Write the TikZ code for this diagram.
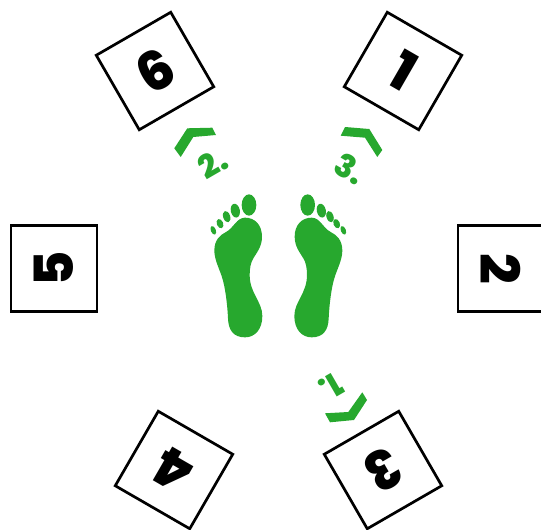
\documentclass[tikz,border=0pt]{standalone}
\usepackage{fontspec}
\setmainfont{Poppins}[BoldFont={Poppins ExtraBold}]
\definecolor{fg}{HTML}{27A82E}
\newcommand{\footshape}{%
  \fill[fg] (165,113) .. controls (195,113) and (216,135) .. (216,170)
    .. controls (216,200) and (200,218) .. (190,235)
    .. controls (182,248) and (179,265) .. (179,285)
    .. controls (179,340) and (217,365) .. (217,408)
    .. controls (217,448) and (195,472) .. (165,472)
    .. controls (130,472) and (115,450) .. (114,415)
    .. controls (112,370) and (105,320) .. (97,295)
    .. controls (90,270) and (73,240) .. (73,212)
    .. controls (73,180) and (90,165) .. (108,156)
    .. controls (130,145) and (140,113) .. (165,113) -- cycle;
  \fill[fg,rotate around={0:(177,75)}] (177,75) ellipse [x radius=22,y radius=32];
  \fill[fg,rotate around={12:(136,92)}] (136,92) ellipse [x radius=13.5,y radius=21];
  \fill[fg,rotate around={18:(110,110)}] (110,110) ellipse [x radius=10.5,y radius=17.5];
  \fill[fg,rotate around={22:(90,131)}] (90,131) ellipse [x radius=9.5,y radius=14.5];
  \fill[fg,rotate around={22:(70,151)}] (70,151) ellipse [x radius=7.5,y radius=13.5];
}
\tikzset{
  tile/.style={draw=black,line width=2.7pt,fill=white,minimum size=86pt,inner sep=0pt,
    font=\fontsize{54}{54}\selectfont\bfseries},
  lbl/.style={text=fg,inner sep=0pt,font=\fontsize{32}{32}\selectfont\bfseries},
}
\begin{document}
\begin{tikzpicture}[x=1pt,y=-1pt]
\useasboundingbox (0,0) rectangle (541,530);
\clip (0,0) rectangle (541,530);
\node[tile,rotate=-30] (t1) at (403,71) {1};
\node[tile,rotate=-90] (t2) at (501,268.5) {2};
\node[tile,rotate=-150] (t3) at (383,470) {3};
\node[tile,rotate=150] (t4) at (174,470) {4};
\node[tile,rotate=90] (t5) at (54,268.5) {5};
\node[tile,rotate=30] (t6) at (155,71) {6};
\begin{scope}[shift={(190,180)},x=0.33333pt,y=-0.33333pt]
\footshape
\end{scope}
\begin{scope}[shift={(366.67,180)},x=-0.33333pt,y=-0.33333pt]
\footshape
\end{scope}
\fill[fg] (187.3,128.3) -- (212.3,127.7) -- (216,135) -- (193.3,137) -- (180.7,157) -- (174.3,148.3) -- cycle;
\fill[fg] (345,127) -- (369.3,129) -- (382.3,150) -- (377.3,157) -- (365,137.7) -- (340.7,135.7) -- cycle;
\fill[fg] (325,413.3) -- (348.3,412) -- (362.3,392.3) -- (367,400) -- (354,420) -- (330,422.3) -- cycle;
\node[lbl,rotate=30] (l2) at (213,163) {2.};
\node[lbl,rotate=-30] (l3) at (350,169) {3.};
\node[lbl,rotate=-150] (l1) at (331,387) {1.};
\end{tikzpicture}
\end{document}
